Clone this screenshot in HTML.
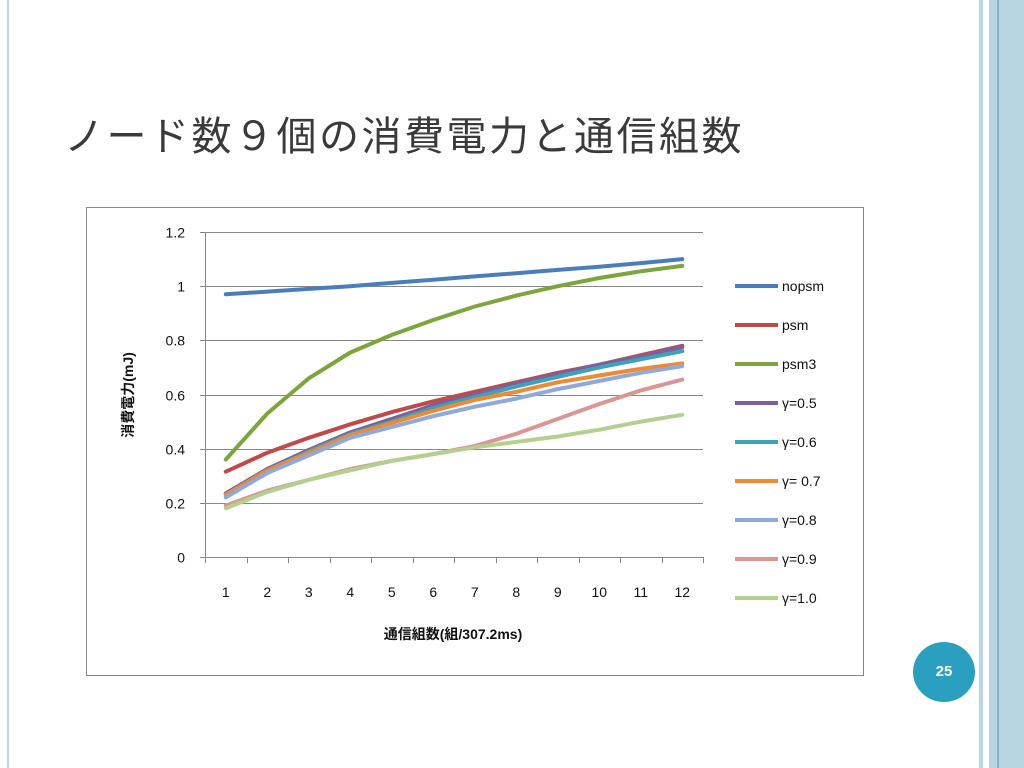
<!DOCTYPE html>
<html><head><meta charset="utf-8">
<style>
html,body{margin:0;padding:0;background:#fff;}
#slide{position:relative;width:1024px;height:768px;overflow:hidden;background:#fff;font-family:"Liberation Sans","Noto Sans CJK JP",sans-serif;}
</style></head>
<body>
<div id="slide">
  <div style="position:absolute;left:7px;top:0;width:2px;height:768px;background:#b9d6e2"></div>
  <div style="position:absolute;left:979px;top:0;width:4px;height:768px;background:#b9d6e2"></div>
  <div style="position:absolute;left:989px;top:0;width:35px;height:768px;background:#b7d5e1"></div>
  <div style="position:absolute;left:997px;top:0;width:2px;height:768px;background:#7fb0cc"></div>
  <div style="position:absolute;left:64px;top:104px;font-size:40px;letter-spacing:2.5px;color:#3a3a3a;white-space:nowrap;font-family:'Liberation Sans','Noto Sans CJK JP',sans-serif;">ノード数９個の消費電力と通信組数</div>
  <div style="position:absolute;left:913px;top:642px;width:62px;height:60px;border-radius:50%;background:#2a9fc0;color:#fff;font-weight:bold;font-size:15px;line-height:60px;text-align:center;">25</div>
  <svg id="chart" width="1024" height="768" style="position:absolute;left:0;top:0">
    <rect x="86.5" y="207.5" width="777" height="468" fill="#fff" stroke="#888" stroke-width="1"/>
    <g id="grid"></g><g id="axes"></g><g id="series"></g><g id="legend"></g>
    <text x="453" y="639" text-anchor="middle" font-size="14" font-weight="bold" fill="#111" font-family="Liberation Sans, Noto Sans CJK JP, sans-serif">通信組数(組/307.2ms)</text>
    <text transform="translate(133,395) rotate(-90)" text-anchor="middle" font-size="14" font-weight="bold" fill="#111" font-family="Liberation Sans, Noto Sans CJK JP, sans-serif">消費電力(mJ)</text>
  </svg>
</div>
<script>
const categories=[1,2,3,4,5,6,7,8,9,10,11,12];
const yTicks=[0,0.2,0.4,0.6,0.8,1,1.2];
const yTickLabels=["0","0.2","0.4","0.6","0.8","1","1.2"];
const seriesNames=["nopsm","psm","psm3","γ=0.5","γ=0.6","γ= 0.7","γ=0.8","γ=0.9","γ=1.0"];
const seriesColors=["#4a7ebb","#be4b48","#7ea43c","#7d5fa0","#3ca3b8","#ee8a34","#8ea9db","#d99694","#b3d08f"];
const nopsm=[0.97,0.98,0.99,1.0,1.012,1.024,1.036,1.048,1.06,1.072,1.085,1.10];
const psm=[0.315,0.385,0.44,0.49,0.535,0.575,0.61,0.645,0.68,0.71,0.745,0.78];
const psm3=[0.36,0.53,0.66,0.755,0.82,0.875,0.925,0.965,1.0,1.03,1.055,1.075];
const g05=[0.235,0.325,0.395,0.46,0.51,0.56,0.6,0.64,0.675,0.71,0.74,0.775];
const g06=[0.23,0.32,0.39,0.455,0.5,0.55,0.59,0.63,0.665,0.7,0.73,0.76];
const g07=[0.23,0.32,0.385,0.45,0.495,0.54,0.58,0.61,0.645,0.67,0.695,0.715];
const g08=[0.22,0.31,0.375,0.44,0.48,0.52,0.555,0.585,0.62,0.65,0.68,0.705];
const g09=[0.19,0.245,0.285,0.325,0.355,0.38,0.41,0.455,0.51,0.565,0.615,0.655];
const g10=[0.18,0.24,0.285,0.32,0.355,0.38,0.405,0.425,0.445,0.47,0.5,0.525];
const allSeries=[nopsm,psm,psm3,g05,g06,g07,g08,g09,g10];

const NS="http://www.w3.org/2000/svg";
const X0=205,X1=703,Y0=557,Y1=232,YMAX=1.2;
const band=(X1-X0)/categories.length;
function xPos(i){return X0+band*(i+0.5);}
function yPos(v){return Y0-(v/YMAX)*(Y0-Y1);}
function mk(tag,attrs,parent){const e=document.createElementNS(NS,tag);for(const k in attrs)e.setAttribute(k,attrs[k]);parent.appendChild(e);return e;}
const grid=document.getElementById('grid'),axes=document.getElementById('axes'),ser=document.getElementById('series'),leg=document.getElementById('legend');
const font="Liberation Sans, sans-serif";
yTicks.forEach((t,i)=>{
  const y=Math.round(yPos(t))+0.5;
  if(t>0){const l=mk('line',{x1:X0,x2:X1,y1:y,y2:y,stroke:'#888','stroke-width':1},grid);
  
  }
  const tk=mk('line',{x1:X0-5,x2:X0,y1:y,y2:y,stroke:'#888'},axes);
  
  
  const tx=mk('text',{x:X0-20,y:y+5,'text-anchor':'end','font-size':14,fill:'#111','font-family':font},axes);
  tx.textContent=yTickLabels[i];
  
  
});
const ya=mk('line',{x1:X0+0.5,x2:X0+0.5,y1:Y1,y2:Y0,stroke:'#888'},axes);


const xa=mk('line',{x1:X0,x2:X1,y1:Y0+0.5,y2:Y0+0.5,stroke:'#888'},axes);


for(let i=0;i<=categories.length;i++){
  const x=Math.round(X0+band*i)+0.5;
  const tk=mk('line',{x1:x,x2:x,y1:Y0,y2:Y0+6,stroke:'#888'},axes);
  
  
}
categories.forEach((c,i)=>{
  const tx=mk('text',{x:xPos(i),y:597,'text-anchor':'middle','font-size':14,fill:'#111','font-family':font},axes);
  tx.textContent=c;
  
  
});
allSeries.forEach((s,k)=>{
  const d=s.map((v,i)=>(i?'L':'M')+xPos(i).toFixed(1)+' '+yPos(v).toFixed(1)).join(' ');
  const p=mk('path',{d:d,fill:'none',stroke:seriesColors[k],'stroke-width':4,'stroke-linejoin':'round','stroke-linecap':'round'},ser);
  
  
  const ly=286+k*39;
  const g=mk('g',{},leg);
  
  
  mk('line',{x1:735,x2:778,y1:ly,y2:ly,stroke:seriesColors[k],'stroke-width':4},g);
  const t=mk('text',{x:782,y:ly+5,'font-size':14,fill:'#111','font-family':font},g);
  t.textContent=seriesNames[k];
});
</script>
</body></html>
